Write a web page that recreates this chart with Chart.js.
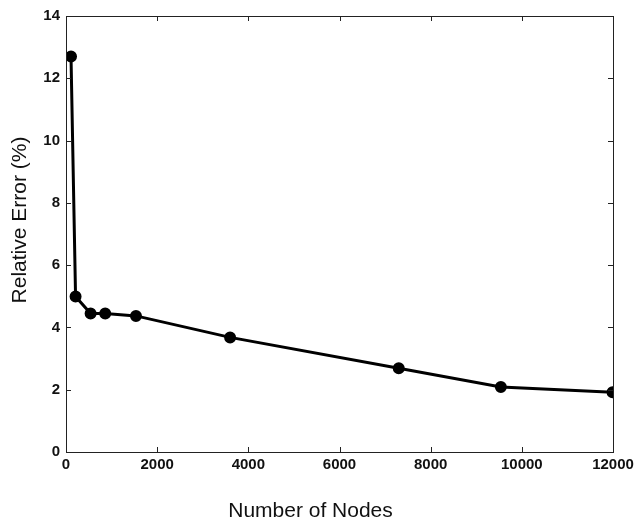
<!DOCTYPE html>
<html>
<head>
<meta charset="utf-8">
<script src="https://cdn.jsdelivr.net/npm/chart.js@4"></script>
<style>
  html, body { margin: 0; padding: 0; background: #fff; }
  #wrap { width: 641px; height: 523px; }
</style>
</head>
<body>
<div id="wrap"><canvas id="errChart"></canvas></div>
<script>
const nodes = [110, 210, 540, 860, 1535, 3600, 7300, 9540, 11990];
const relError = [12.7, 4.99, 4.45, 4.45, 4.37, 3.68, 2.69, 2.09, 1.92];
const xTicks = [0, 2000, 4000, 6000, 8000, 10000, 12000];
const yTicks = [0, 2, 4, 6, 8, 10, 12, 14];
const xTitle = "Number of Nodes";
const yTitle = "Relative Error (%)";

// box around the plot, inward ticks on all four sides, axis titles
const boxPlugin = {
  id: "box",
  afterDraw(chart) {
    const { ctx, chartArea: a, scales } = chart;
    ctx.save();
    ctx.strokeStyle = "#222";
    ctx.lineWidth = 1;
    ctx.strokeRect(a.left + 0.5, a.top + 0.5, a.right - a.left, a.bottom - a.top);
    ctx.beginPath();
    const len = 5;
    xTicks.forEach((v) => {
      const x = Math.round(scales.x.getPixelForValue(v)) + 0.5;
      ctx.moveTo(x, a.bottom); ctx.lineTo(x, a.bottom - len);
      ctx.moveTo(x, a.top); ctx.lineTo(x, a.top + len);
    });
    yTicks.forEach((v) => {
      const y = Math.round(scales.y.getPixelForValue(v)) + 0.5;
      ctx.moveTo(a.left, y); ctx.lineTo(a.left + len, y);
      ctx.moveTo(a.right, y); ctx.lineTo(a.right - len, y);
    });
    ctx.stroke();

    ctx.fillStyle = "#111";
    ctx.font = "21px 'Liberation Sans'";
    ctx.textAlign = "center";
    ctx.textBaseline = "middle";
    ctx.fillText(xTitle, (a.left + a.right) / 2 - 29, 511);
    ctx.translate(20, 220);
    ctx.rotate(-Math.PI / 2);
    ctx.fillText(yTitle, 0, 0);
    ctx.restore();
  },
};

document.addEventListener("DOMContentLoaded", () => {
  const canvas = document.querySelector("#errChart");
  const tickFont = { family: "Liberation Sans", size: 15, weight: "bold" };

  new Chart(canvas, {
    type: "line",
    data: {
      datasets: [
        {
          data: nodes.map((n, i) => ({ x: n, y: relError[i] })),
          borderColor: "#000",
          backgroundColor: "#000",
          borderWidth: 3,
          pointRadius: 4.5,
          pointBackgroundColor: "#000",
          tension: 0,
        },
      ],
    },
    options: {
      responsive: true,
      maintainAspectRatio: false,
      animation: false,
      layout: { padding: { top: 16, right: 28, left: 0, bottom: 0 } },
      plugins: { legend: { display: false }, tooltip: { enabled: false } },
      scales: {
        x: {
          type: "linear",
          min: 0,
          max: 12000,
          afterBuildTicks: (s) => { s.ticks = xTicks.map((v) => ({ value: v })); },
          afterFit: (s) => { s.height = 71; },
          grid: { display: false, drawTicks: false },
          border: { display: false },
          ticks: { color: "#111", font: tickFont, padding: 4, maxRotation: 0, callback: (v) => String(v) },
        },
        y: {
          min: 0,
          max: 14,
          afterBuildTicks: (s) => { s.ticks = yTicks.map((v) => ({ value: v })); },
          afterFit: (s) => { s.width = 66; },
          grid: { display: false, drawTicks: false },
          border: { display: false },
          ticks: { color: "#111", font: tickFont, padding: 6, callback: (v) => String(v) },
        },
      },
    },
    plugins: [boxPlugin],
  });
});
</script>
</body>
</html>
